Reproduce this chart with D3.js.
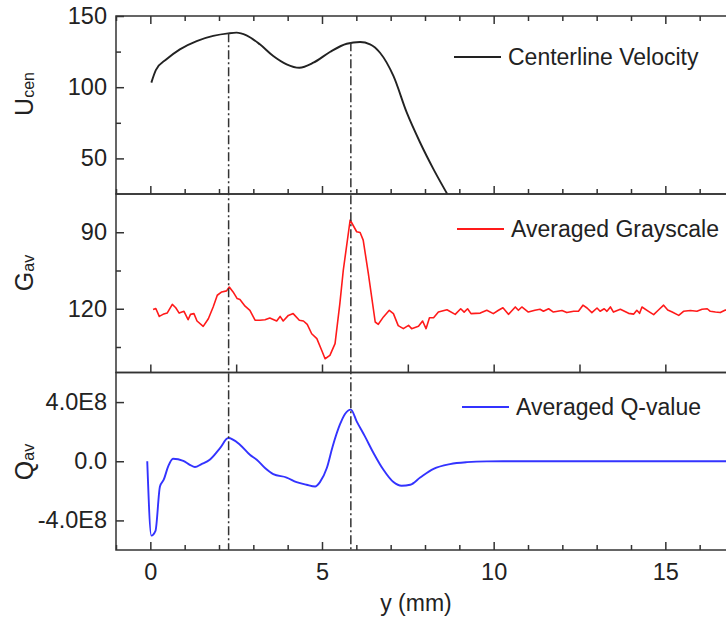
<!DOCTYPE html>
<html>
<head>
<meta charset="utf-8">
<script src="https://cdn.jsdelivr.net/npm/d3@7"></script>
<style>
body { margin: 0; background: #fff; }
text { font-family: Arial, "Liberation Sans", sans-serif; fill: #222; }
</style>
</head>
<body>
<svg id="chart" width="726" height="621"></svg>
<script>
// centerline velocity (top panel)
var uX = [0.03, 0.16, 0.47, 0.86, 1.35, 1.83, 2.27, 2.51, 2.80, 3.19, 3.58, 3.97, 4.34, 4.75, 5.23,
    5.72, 6.11, 6.40, 6.69, 7.08, 7.47, 7.86, 8.25, 8.68, 8.9];
var uVal = [103.2, 112, 119.6, 126.6, 132.4, 136, 137.8, 138.3, 136.4, 130.1, 121.9, 116.1, 113.7, 117.2, 124.7,
    130.5, 131.7, 130.1, 124.2, 107.9, 82.1, 61, 42.3, 23.6, 14];

// averaged grayscale (middle panel, reversed axis)
var gX = [0.08, 0.16, 0.26, 0.37, 0.49, 0.64, 0.74, 0.84, 0.98, 1.10, 1.17, 1.27, 1.36, 1.54, 1.69, 1.83, 1.95,
    2.08, 2.22, 2.30, 2.41, 2.53, 2.61, 2.76, 2.90, 3.05, 3.19, 3.34, 3.48, 3.68, 3.78, 3.87, 4.02, 4.16, 4.34,
    4.46, 4.57, 4.70, 4.85, 4.99, 5.09, 5.23, 5.38, 5.52, 5.62, 5.82, 6.01, 6.11, 6.20, 6.35, 6.55, 6.64, 6.79,
    6.96, 7.08, 7.22, 7.37, 7.52, 7.61, 7.81, 7.93, 8.03, 8.13, 8.25, 8.39, 8.64, 8.88, 9.04, 9.14, 9.24, 9.34,
    9.61, 9.80, 9.99, 10.14, 10.27, 10.43, 10.63, 10.72, 10.82, 11.01, 11.20, 11.35, 11.45, 11.6, 11.74, 11.99,
    12.13, 12.33, 12.47, 12.6, 12.72, 12.86, 13.01, 13.1, 13.22, 13.3, 13.4, 13.49, 13.69, 13.93, 14.08, 14.17,
    14.25, 14.32, 14.51, 14.66, 14.8, 14.95, 15.07, 15.2, 15.39, 15.53, 15.73, 15.92, 16.07, 16.22, 16.31,
    16.46, 16.6, 16.75, 16.95, 17.2];
var gVal = [120.3, 119.9, 123, 122.2, 121.7, 118.3, 119.6, 121.7, 121, 124.3, 122.2, 121.9, 124.8, 126.9, 123.9,
    119.3, 114.7, 113.4, 113, 111.5, 113.4, 116, 116.4, 119, 120.6, 124.5, 124.5, 124.3, 123.6, 124.8, 123,
    124.8, 122.6, 121.9, 124.5, 124.8, 126.1, 129.8, 131.7, 136.3, 139.6, 138.3, 133.7, 118, 104.9, 85.2, 89.8,
    90.1, 93.1, 106.2, 125.2, 126.1, 123.2, 120.6, 121.9, 126.6, 127.8, 126.5, 127.8, 126.9, 124.8, 127.8,
    123.5, 123.5, 121.3, 120.4, 122.2, 120, 121.3, 120, 121.9, 121.7, 120.6, 121.9, 120.6, 119.6, 122.2, 119.3,
    120.6, 119.3, 121.3, 120.6, 120.2, 121, 120, 121.3, 120.7, 121.5, 121, 121, 118.6, 119.7, 121.5, 119.7,
    121, 120, 121, 119.3, 121.3, 120.2, 121.8, 122.1, 120.6, 121.8, 119.3, 121, 122.3, 120.5, 118.6, 120.5,
    121.3, 122.6, 121, 120.7, 121, 120.2, 120, 121, 121.3, 121.5, 120.5, 121.2, 120.8];

// averaged Q-value (bottom panel)
var qX = [-0.09, 0.03, 0.15, 0.28, 0.39, 0.52, 0.66, 0.96, 1.15, 1.30, 1.49, 1.73, 2.03, 2.27, 2.61, 2.90, 3.10,
    3.34, 3.58, 3.97, 4.26, 4.55, 4.80, 4.94, 5.14, 5.31, 5.52, 5.67, 5.84, 6.01, 6.25, 6.50, 6.79, 7.08, 7.32,
    7.57, 7.86, 8.25, 8.73, 9.22, 9.80, 11, 13, 15, 17.5];
var qVal = [0, -5.03e8, -4.71e8, -1.71e8, -1.25e8, -0.35e8, 0.17e8, 0.03e8, -0.24e8, -0.39e8, -0.19e8, 0.10e8,
    0.89e8, 1.57e8, 1.12e8, 0.44e8, 0.10e8, -0.46e8, -0.87e8, -1.10e8, -1.41e8, -1.59e8, -1.71e8, -1.41e8,
    -0.46e8, 1.0e8, 2.47e8, 3.2e8, 3.49e8, 2.70e8, 1.68e8, 0.56e8, -0.58e8, -1.41e8, -1.66e8, -1.59e8,
    -1.10e8, -0.51e8, -0.19e8, -0.06e8, -0.01e8, 0, 0, 0, 0];

// dash-dot markers at the two velocity peaks
var markerX = [2.28, 5.84];
var markerU = [137.9, 131.5];

var xMajor = [0, 5, 10, 15];
var xMinor = d3.range(-1, 18, 1);
var xMid = d3.range(0, 17.5, 2.5);

var uTicks = [50, 100, 150], uMinor = [75, 125];
var gTicks = [90, 120], gMinor = [105, 135];
var qTicks = [-4e8, 0, 4e8];

var svg = d3.select("#chart");
var left = 116, right = 734;
var x = d3.scaleLinear().domain([-1, 17]).range([left, right]);

var panels = [
    {id: "u", top: 16, bottom: 194, domain: [25, 150], xs: uX, ys: uVal, color: "#222",
        ticks: uTicks, minor: uMinor, fmt: d3.format("d"), curve: d3.curveMonotoneX,
        name: "U", sub: "cen", labelY: 94, legend: "Centerline Velocity", legX: 454, legY: 57},
    {id: "g", top: 194, bottom: 372.5, domain: [145, 75], xs: gX, ys: gVal, color: "#ff1a1a",
        ticks: gTicks, minor: gMinor, fmt: d3.format("d"), curve: d3.curveLinear,
        name: "G", sub: "av", labelY: 273, legend: "Averaged Grayscale", legX: 457, legY: 229},
    {id: "q", top: 372.5, bottom: 550, domain: [-6e8, 6e8], xs: qX, ys: qVal, color: "#3333ff",
        ticks: qTicks, minor: [], fmt: function (d) { return d === 0 ? "0.0" : (d / 1e8).toFixed(1) + "E8"; },
        curve: d3.curveMonotoneX,
        name: "Q", sub: "av", labelY: 462, legend: "Averaged Q-value", legX: 462, legY: 407}
];

var noDomain = function (g) { g.select(".domain").remove(); };
var tickStyle = function (g) {
    g.selectAll("text").style("font-size", "23.5px").attr("fill", "#222");
    g.selectAll("line").attr("stroke", "#333").attr("stroke-width", 1.5);
};

panels.forEach(function (p, idx) {
    var y = d3.scaleLinear().domain(p.domain).range([p.bottom, p.top]);
    p.y = y;

    svg.append("clipPath").attr("id", "clip-" + p.id)
        .append("rect").attr("x", left).attr("y", p.top).attr("width", right - left).attr("height", p.bottom - p.top);

    var line = d3.line()
        .x(function (d) { return x(d[0]); })
        .y(function (d) { return y(d[1]); })
        .curve(p.curve);

    svg.append("path")
        .datum(p.xs.map(function (v, i) { return [v, p.ys[i]]; }))
        .attr("clip-path", "url(#clip-" + p.id + ")")
        .attr("fill", "none")
        .attr("stroke", p.color)
        .attr("stroke-width", p.id === "g" ? 1.6 : 1.9)
        .attr("stroke-linejoin", "round")
        .attr("d", line);

    // left axis: inward ticks + labels
    svg.append("g").attr("transform", "translate(" + left + ",0)")
        .call(d3.axisLeft(y).tickValues(p.ticks).tickSize(-8).tickPadding(9).tickFormat(p.fmt))
        .call(noDomain)
        .call(tickStyle);
    svg.append("g").attr("transform", "translate(" + left + ",0)")
        .call(d3.axisLeft(y).tickValues(p.minor).tickSize(-5).tickFormat(""))
        .call(noDomain)
        .call(tickStyle);

    // right axis inward ticks
    svg.append("g").attr("transform", "translate(" + right + ",0)")
        .call(d3.axisRight(y).tickValues(p.ticks).tickSize(-8).tickFormat(""))
        .call(noDomain)
        .call(tickStyle);

    // bottom ticks of each panel
    if (p.id === "g") {
        svg.append("g").attr("transform", "translate(0," + p.bottom + ")")
            .call(d3.axisBottom(x).tickValues(xMid).tickSize(-8).tickFormat(""))
            .call(noDomain).call(tickStyle);
    } else {
        svg.append("g").attr("transform", "translate(0," + p.bottom + ")")
            .call(d3.axisBottom(x).tickValues(xMinor.filter(function (v) { return v % 5 !== 0; }))
                .tickSize(-5).tickFormat(""))
            .call(noDomain).call(tickStyle);
        svg.append("g").attr("transform", "translate(0," + p.bottom + ")")
            .call(d3.axisBottom(x).tickValues(xMajor).tickSize(-8).tickPadding(13)
                .tickFormat(p.id === "q" ? d3.format("d") : ""))
            .call(noDomain).call(tickStyle);
    }

    // top ticks only on the top panel
    if (idx === 0) {
        svg.append("g").attr("transform", "translate(0," + p.top + ")")
            .call(d3.axisTop(x).tickValues(xMinor.filter(function (v) { return v % 5 !== 0; })).tickSize(-5).tickFormat(""))
            .call(noDomain).call(tickStyle);
        svg.append("g").attr("transform", "translate(0," + p.top + ")")
            .call(d3.axisTop(x).tickValues(xMajor).tickSize(-8).tickFormat(""))
            .call(noDomain).call(tickStyle);
    }

    // frame
    svg.append("rect")
        .attr("x", left).attr("y", p.top)
        .attr("width", right - left).attr("height", p.bottom - p.top)
        .attr("fill", "none").attr("stroke", "#333").attr("stroke-width", 1.5);

    // y label with subscript
    var lab = svg.append("text")
        .attr("transform", "translate(33," + p.labelY + ") rotate(-90)")
        .attr("text-anchor", "middle")
        .style("font-size", "25px");
    lab.append("tspan").text(p.name);
    lab.append("tspan").attr("dy", 1).style("font-size", "16px").text(p.sub);

    // legend
    svg.append("line")
        .attr("x1", p.legX).attr("x2", p.legX + 47)
        .attr("y1", p.legY).attr("y2", p.legY)
        .attr("stroke", p.color).attr("stroke-width", 1.8);
    svg.append("text")
        .attr("x", p.legX + 54).attr("y", p.legY + 8)
        .style("font-size", "23px")
        .text(p.legend);
});

// dash-dot guide lines from the velocity peaks down to the bottom axis
var uY = panels[0].y;
svg.selectAll(".guide")
    .data(markerX)
    .enter().append("line")
    .attr("class", "guide")
    .attr("x1", function (d) { return x(d); })
    .attr("x2", function (d) { return x(d); })
    .attr("y1", function (d, i) { return uY(markerU[i]); })
    .attr("y2", panels[2].bottom)
    .attr("stroke", "#333")
    .attr("stroke-width", 1.5)
    .attr("stroke-dasharray", "9,3,2,3");

svg.append("text")
    .attr("x", 416).attr("y", 611)
    .attr("text-anchor", "middle")
    .style("font-size", "23px")
    .text("y (mm)");
</script>
</body>
</html>
